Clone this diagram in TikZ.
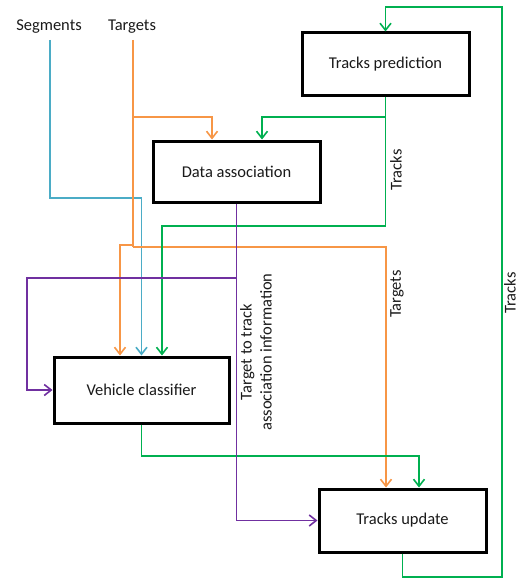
\documentclass[tikz,border=0pt]{standalone}
\usepackage{fontspec}
\setmainfont{Carlito}
\usetikzlibrary{arrows.meta}
\definecolor{cblue}{HTML}{4BACC6}
\definecolor{corange}{HTML}{F79646}
\definecolor{cgreen}{HTML}{00B050}
\definecolor{cpurple}{HTML}{7030A0}
\definecolor{ctext}{HTML}{1A1A1A}
\begin{document}
\begin{tikzpicture}[x=1pt,y=-1pt,
  box/.style={draw=black, line width=3pt, fill=white, inner sep=0pt, text=ctext, font=\fontsize{16.5}{20}\selectfont},
  conn/.style={line width=1.6pt, -{Straight Barb[length=7pt,width=11pt]}},
  plain/.style={line width=1.6pt},
  lbl/.style={font=\fontsize{16.5}{20}\selectfont, text=ctext, inner sep=0pt, rotate=90},
  toplbl/.style={font=\fontsize{16.5}{20}\selectfont, text=ctext, inner sep=0pt, anchor=base},
]
\useasboundingbox (0,0) rectangle (519,578);

% boxes
\node[box, minimum width=167pt, minimum height=62pt] (tp) at (385.5,64) {Tracks prediction};
\node[box, minimum width=167pt, minimum height=61pt] (da) at (236.5,171.5) {Data association};
\node[box, minimum width=175pt, minimum height=66pt] (vc) at (141.5,390) {Vehicle classifier};
\node[box, minimum width=167pt, minimum height=63pt] (tu) at (402.5,520.5) {Tracks update};

% inputs
\node[toplbl] (seg) at (49,31) {Segments};
\node[toplbl] (tgt) at (132,31) {Targets};
\coordinate (segtop) at (50,40);
\coordinate (tgttop) at (133,40);

% blue
\draw[conn,cblue] (segtop) -- (50,198) -| (vc.north);

% orange
\draw[conn,corange] (tgttop) |- (212,117) -- (212,0 |- da.north);
\draw[plain,corange] (133,117) -- (133,247);
\draw[conn,corange] (133,247) -| (386,0 |- tu.north);
\draw[conn,corange] (133,245) -| (120,0 |- vc.north);

% green
\draw[conn,cgreen] (tu.south) -- (tu.south |- 0,577) -| (502,7) -| (tp.north);
\draw[conn,cgreen] (tp.south) |- (262,117) -- (262,0 |- da.north);
\draw[conn,cgreen] (tp.south |- 0,117) -- (tp.south |- 0,226) -| (162,0 |- vc.north);
\draw[conn,cgreen] (vc.south) |- (419,456) -- (419,0 |- tu.north);

% purple
\draw[conn,cpurple] (da.south) |- (27,278) |- (vc.west);
\draw[conn,cpurple] (da.south |- 0,278) |- (tu.west);

% labels
\node[lbl] (lt1) at (396,170) {Tracks};
\node[lbl] (lt2) at (397,294) {Targets};
\node[lbl] (lt3) at (510,293) {Tracks};
\node[lbl, align=center] (lt4) at (256,352) {Target to track\\association information};
\end{tikzpicture}
\end{document}
